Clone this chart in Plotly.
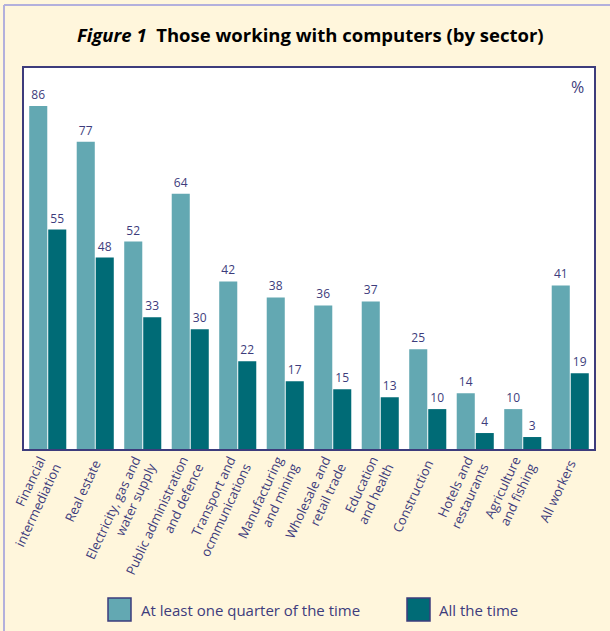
import plotly.graph_objects as go

categories = [
    "Financial<br>intermediation", "Real estate", "Electricity, gas and<br>water supply",
    "Public administration<br>and defence", "Transport and<br>ocmmunications",
    "Manufacturing<br>and mining", "Wholesale and<br>retail trade", "Education<br>and health",
    "Construction", "Hotels and<br>restaurants", "Agriculture<br>and fishing", "All workers",
]
quarter_time = [86, 77, 52, 64, 42, 38, 36, 37, 25, 14, 10, 41]
all_time = [55, 48, 33, 30, 22, 17, 15, 13, 10, 4, 3, 19]
series_names = ["At least one quarter of the time", "All the time"]

LIGHT = "#63A8B2"
DARK = "#006B76"
NAVY = "#3D3C7C"
CREAM = "#FFF6DC"
FONT = "Open Sans"

W, H = 610, 631
L, R, T, B = 24, 16, 68, 182
PW, PH = W - L - R, H - T - B


def px(x):
    return (x - L) / PW


def py(y):
    return (H - B - y) / PH


fig = go.Figure()
for name, vals, col in [(series_names[0], quarter_time, LIGHT), (series_names[1], all_time, DARK)]:
    fig.add_trace(go.Bar(
        x=list(range(len(categories))), y=vals, name=name,
        marker=dict(color=col, line=dict(width=0)),
        text=[str(v) for v in vals], textposition="outside",
        textfont=dict(color=NAVY, size=12, family=FONT),
        cliponaxis=False, showlegend=False,
    ))

fig.update_layout(
    width=W, height=H,
    margin=dict(l=L, r=R, t=T, b=B, autoexpand=False),
    paper_bgcolor=CREAM, plot_bgcolor="white",
    barmode="group", bargap=0.2, bargroupgap=0.05,
    font=dict(family=FONT, color=NAVY),
    xaxis=dict(
        range=[-0.5, 11.5], tickmode="array", tickvals=list(range(len(categories))),
        ticktext=categories, tickangle=-65, tickfont=dict(size=13, color=NAVY),
        showline=True, linecolor=NAVY, linewidth=2, mirror=True, ticks="", showgrid=False,
        automargin=False, ticklabeloverflow="allow",
    ),
    yaxis=dict(
        range=[0, 95.5], showticklabels=False, showgrid=False, zeroline=False,
        showline=True, linecolor=NAVY, linewidth=2, mirror=True, ticks="",
        automargin=False,
    ),
)

# title
fig.add_annotation(
    x=px(310), y=py(35), xref="paper", yref="paper", showarrow=False,
    text="<b><i>Figure 1</i>  Those working with computers (by sector)</b>",
    font=dict(size=18.5, color="black", family=FONT), xanchor="center", yanchor="middle",
)
# percent sign
fig.add_annotation(
    x=px(577), y=py(87), xref="paper", yref="paper", showarrow=False,
    text="%", font=dict(size=16, color=NAVY, family=FONT), xanchor="center", yanchor="middle",
)

# outer frame (top and left)
fig.add_shape(type="line", xref="paper", yref="paper", x0=px(4), x1=px(612), y0=py(5), y1=py(5),
              line=dict(color="#B3B0DC", width=2))
fig.add_shape(type="line", xref="paper", yref="paper", x0=px(4), x1=px(4), y0=py(5), y1=py(640),
              line=dict(color="#B3B0DC", width=2))

# legend
for x0, col, name, tx in [(108, LIGHT, series_names[0], 139), (407, DARK, series_names[1], 437)]:
    fig.add_shape(type="rect", xref="paper", yref="paper",
                  x0=px(x0), x1=px(x0 + 23), y0=py(598), y1=py(621),
                  fillcolor=col, line=dict(color=NAVY, width=1.5))
    fig.add_annotation(x=px(tx), y=py(610), xref="paper", yref="paper", showarrow=False,
                       text=name, font=dict(size=15, color=NAVY, family=FONT),
                       xanchor="left", yanchor="middle")

fig.write_html(
    "out.html",
    config={"displayModeBar": False},
    post_script="document.body.style.margin='0';document.body.style.overflow='hidden';",
)
